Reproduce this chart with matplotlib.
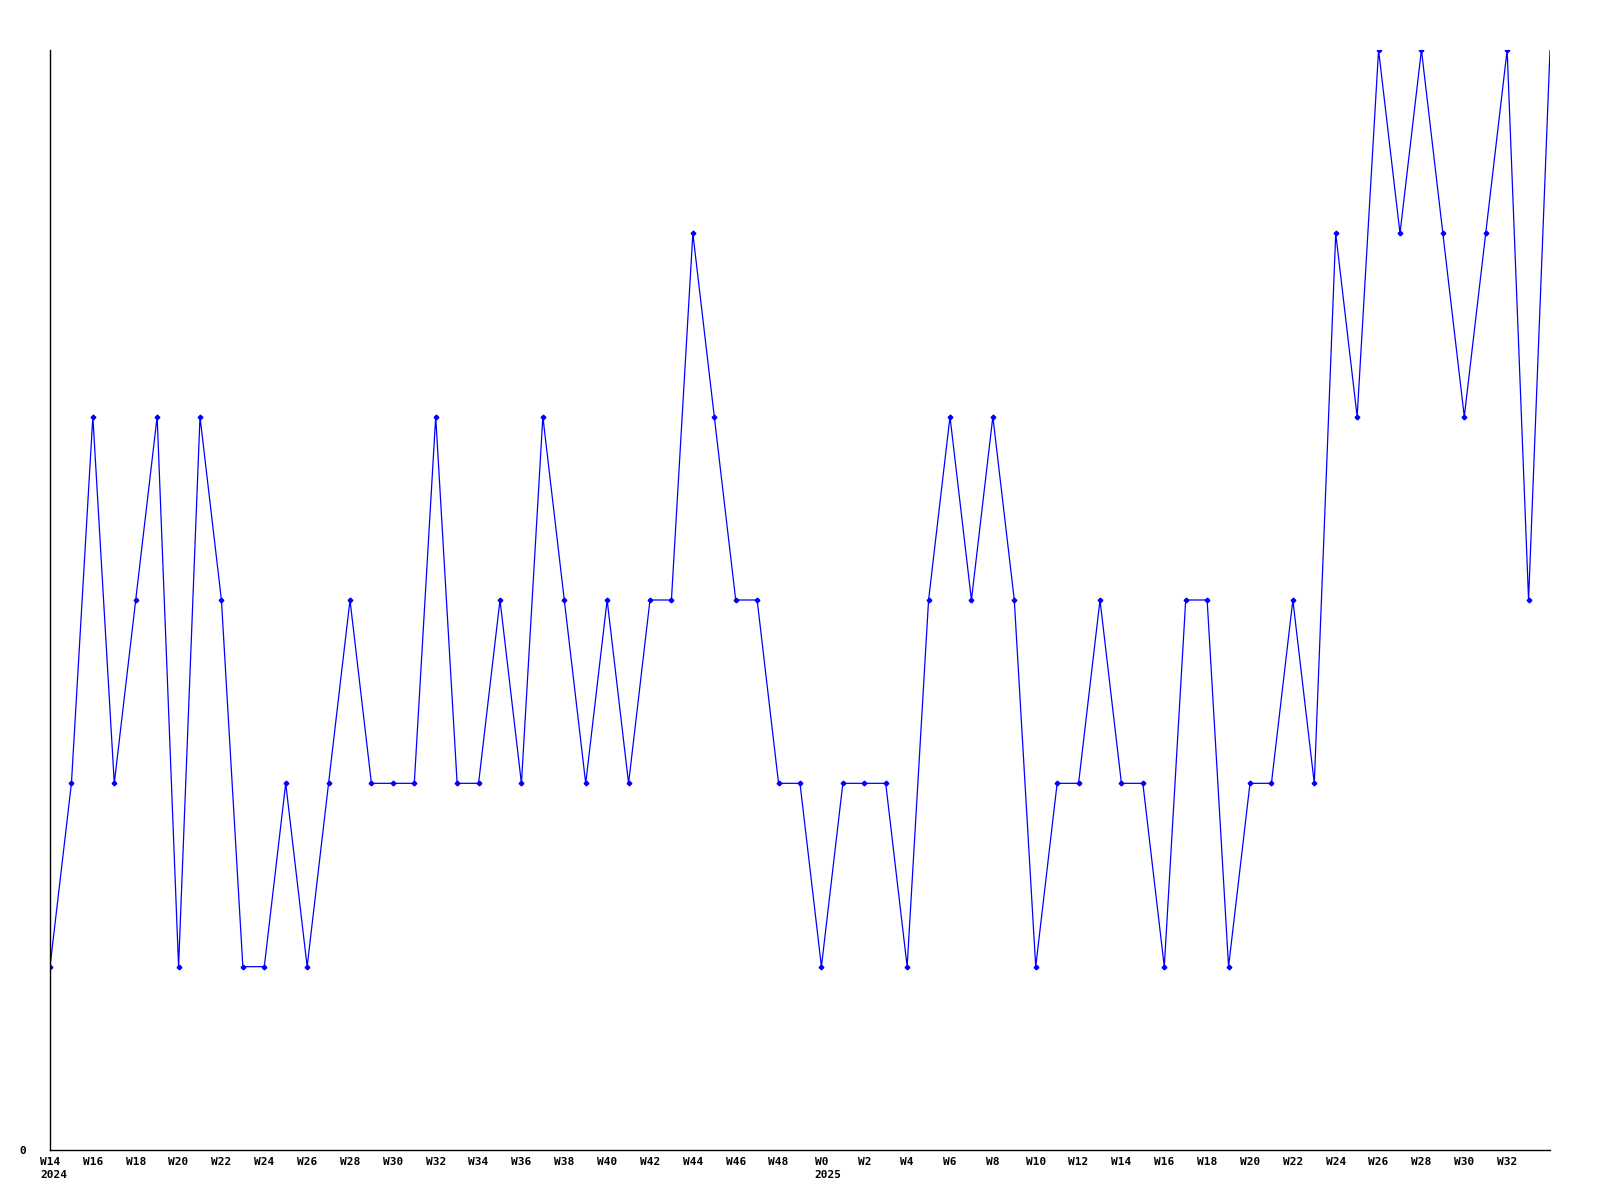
import matplotlib.pyplot as plt
from matplotlib.transforms import ScaledTranslation

weeks = (['W%d' % w for w in range(14, 50)] + ['W%d' % w for w in range(0, 35)])
values = [1, 2, 4, 2, 3, 4, 1, 4, 3, 1, 1, 2, 1, 2, 3, 2, 2, 2, 4, 2,
          2, 3, 2, 4, 3, 2, 3, 2, 3, 3, 5, 4, 3, 3, 2, 2,
          1, 2, 2, 2, 1, 3, 4, 3, 4, 3, 1, 2, 2, 3, 2, 2, 1, 3, 3, 1,
          2, 2, 3, 2, 5, 4, 6, 5, 6, 5, 4, 5, 6, 3, 6]
years = {0: '2024', 36: '2025'}

plt.rcParams['font.family'] = 'DejaVu Sans Mono'

fig = plt.figure(figsize=(16, 12), dpi=100)
ax = fig.add_axes([50 / 1600, 50 / 1200, 1500 / 1600, 1100 / 1200])

x = list(range(len(values)))
ax.plot(x, values, color='#0000ff', linewidth=0.9, marker='P', markersize=3,
        markevery=list(range(len(values) - 1)))

ax.set_xlim(0, len(values) - 1)
ax.set_ylim(0, 6)
ax.set_yticks([0])
ax.set_yticklabels(['0'], fontsize=8, fontweight='bold')

# labels every other week, the last point has none
ticks = x[:-1:2]
ax.set_xticks(ticks)
ax.set_xticklabels([weeks[i] for i in ticks], fontsize=8, fontweight='bold')
ax.tick_params(axis='x', length=0, pad=5)
ax.tick_params(axis='y', length=0, pad=17)

# year under the first week label of each year, left-aligned with it
charw = 0.602 * 8 / 72
for i, yr in years.items():
    off = ScaledTranslation(-len(weeks[i]) * charw / 2, -20 / 100, fig.dpi_scale_trans)
    ax.text(i, 0, yr, fontsize=8, fontweight='bold', ha='left', va='top',
            transform=ax.get_xaxis_transform() + off)

ax.spines['top'].set_visible(False)
ax.spines['right'].set_visible(False)
ax.spines['left'].set_linewidth(1.0)
ax.spines['bottom'].set_linewidth(1.0)

fig.savefig('out.png', dpi=100)
